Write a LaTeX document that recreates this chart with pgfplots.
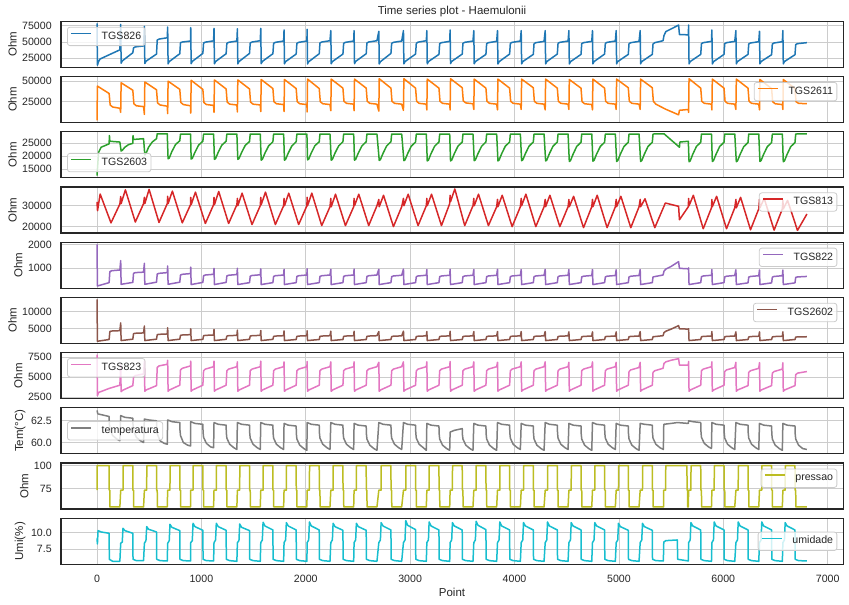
\documentclass[border=0pt]{standalone}
\usepackage{fontspec}
\setmainfont{Liberation Sans}
\usepackage{pgfplots}
\pgfplotsset{compat=1.18}

\definecolor{c0}{HTML}{1F77B4}
\definecolor{c1}{HTML}{FF7F0E}
\definecolor{c2}{HTML}{2CA02C}
\definecolor{c3}{HTML}{D62728}
\definecolor{c4}{HTML}{9467BD}
\definecolor{c5}{HTML}{8C564B}
\definecolor{c6}{HTML}{E377C2}
\definecolor{c7}{HTML}{7F7F7F}
\definecolor{c8}{HTML}{BCBD22}
\definecolor{c9}{HTML}{17BECF}
\definecolor{gridc}{HTML}{CCCCCC}
\definecolor{framec}{HTML}{262626}
\definecolor{textc}{HTML}{262626}

\newcommand\tfs{\fontsize{10.6bp}{12bp}\selectfont}
\newcommand\lfs{\fontsize{11.5bp}{13bp}\selectfont}

\pgfplotsset{
  ts/.style={
    scale only axis, width=782.3bp, height=46bp, anchor=north west,
    xmin=-345, xmax=7150, xtick={0,1000,...,7000}, xticklabels={},
    grid=major, major grid style={draw=gridc, line width=0.8bp},
    axis line style={draw=framec, line width=1.25bp},
    major tick length=0pt, tick style={draw=none},
    ticklabel style={font=\tfs, text=textc},
    yticklabel shift=5.8bp,
    ylabel style={font=\lfs, text=textc, inner sep=2bp},
    /pgf/number format/assume math mode=true,
    /pgf/number format/1000 sep={},
    scaled y ticks=false,
    legend style={font=\tfs, text=textc, draw=gridc, fill=white,
      fill opacity=0.8, draw opacity=1, text opacity=1,
      rounded corners=2.5bp, line width=0.8bp, inner xsep=3bp, inner ysep=3.5bp,
      column sep=9bp, nodes={inner sep=0.8bp, text height=7.6bp, text depth=2.2bp}},
    legend image code/.code={\draw[##1,line width=1.5bp] (0bp,3bp) -- (20bp,3bp);},
    every axis plot/.append style={line width=1.5bp, line join=round},
  },
  legUL/.style={legend style={at={(0.0077,0.88)}, anchor=north west}},
  legUR/.style={legend style={at={(0.9923,0.88)}, anchor=north east}},
  legLL/.style={legend style={at={(0.0077,0.12)}, anchor=south west}},
  legCL/.style={legend style={at={(0.0077,0.5)}, anchor=west}},
  legCR/.style={legend style={at={(0.9923,0.5)}, anchor=east}},
}

\begin{document}
\begin{tikzpicture}
\path[use as bounding box] (0,0) rectangle (849bp,605bp);

% TGS826
\begin{axis}[ts, at={(61bp,583.7bp)}, ymin=11200, ymax=81800, ytick={25000,50000,75000}, ylabel={Ohm}, legUL]
\addplot[c0] coordinates {
(0,78500)(4,14500)(15,20000)(30,24000)(219,38000)
(227,77000)(231,17500)(242,21000)(343,33500)(350,41000)(367,42500)(446,44000)
(454,74000)(458,17000)(469,20500)(570,31500)(577,53000)(594,54500)(673,56500)
(677,73000)(681,16500)(692,20000)(793,32000)(800,49000)(817,50000)(896,51500)
(898,72000)(902,16800)(913,20300)(1014,32500)(1021,48500)(1038,49800)(1117,51800)
(1121,71000)(1125,16600)(1136,20100)(1237,32000)(1244,48000)(1261,49500)(1340,51500)
(1345,70300)(1349,16500)(1360,20000)(1461,32500)(1468,48500)(1485,50000)(1564,52000)
(1569,71000)(1573,16800)(1584,20200)(1685,32000)(1692,48000)(1709,49500)(1788,51500)
(1792,68500)(1796,16500)(1807,20000)(1908,31500)(1915,48000)(1932,49500)(2011,51500)
(2013,69500)(2017,16300)(2028,19800)(2129,32000)(2136,48500)(2153,50000)(2232,52000)
(2240,67500)(2244,16500)(2255,20000)(2356,31500)(2363,48000)(2380,49500)(2459,51500)
(2463,67500)(2467,16800)(2478,20300)(2579,32000)(2586,48500)(2603,50000)(2682,52000)
(2700,66500)(2704,16300)(2715,19800)(2816,32500)(2823,48000)(2840,49500)(2919,51500)
(2936,67500)(2940,16500)(2951,20000)(3052,31500)(3059,48000)(3076,49800)(3155,52000)
(3160,67500)(3164,16500)(3175,20000)(3276,31000)(3283,47500)(3300,49000)(3379,51000)
(3383,68500)(3387,16800)(3398,20200)(3499,31500)(3506,48000)(3523,49500)(3602,51500)
(3610,67500)(3614,16500)(3625,20000)(3726,31000)(3733,47500)(3750,49000)(3829,51000)
(3837,67500)(3841,16300)(3852,19800)(3953,31500)(3960,48000)(3977,49500)(4056,51500)
(4064,67500)(4068,16500)(4079,20000)(4180,31000)(4187,47500)(4204,49000)(4283,51000)
(4294,67500)(4298,16500)(4309,20000)(4410,31500)(4417,48000)(4434,49500)(4513,51500)
(4521,67500)(4525,16300)(4536,19800)(4637,31000)(4644,47500)(4661,49000)(4740,51000)
(4747,67500)(4751,16500)(4762,20000)(4863,31500)(4870,48000)(4887,49500)(4966,51500)
(4974,67500)(4978,16500)(4989,20000)(5090,31000)(5097,47500)(5114,49000)(5193,51000)
(5204,67500)(5208,16500)(5219,20000)(5320,31000)(5327,47000)(5344,49000)(5423,52000)(5432,60000)(5450,66000)(5500,70000)(5572,76000)(5580,61500)(5665,61000)
(5668,76000)(5672,16500)(5683,20000)(5784,31000)(5791,47500)(5808,49000)(5887,51000)
(5891,68500)(5895,16300)(5906,19800)(6007,31000)(6014,47500)(6031,49000)(6110,51000)
(6121,67500)(6125,16500)(6136,20000)(6237,31000)(6244,47000)(6261,48500)(6340,50500)
(6347,66500)(6351,16500)(6362,20000)(6463,30500)(6470,47000)(6487,48500)(6566,50500)
(6571,67500)(6575,16500)(6586,20000)(6687,30500)(6694,46000)(6711,47500)(6801,49000)
};
\addlegendentry{TGS826}
\end{axis}

% TGS2611
\begin{axis}[ts, at={(61bp,528.5bp)}, ymin=-360, ymax=55700, ytick={25000,50000}, ylabel={Ohm}, legUR]
\addplot[c1] coordinates {
(0,2200)(4,44000)(116,35000)(126,21000)(150,18500)(219,17000)
(227,12000)(231,48000)(343,39000)(353,22500)(377,20000)(446,19000)
(454,9500)(458,49000)(570,39500)(580,23500)(604,21000)(673,19500)
(677,10500)(681,50000)(793,40000)(803,24000)(827,21500)(896,20000)
(898,11000)(902,51000)(1014,40000)(1024,24000)(1048,21500)(1117,20500)
(1121,12000)(1125,51500)(1237,40500)(1247,24500)(1271,22000)(1340,21000)
(1345,12500)(1349,51500)(1461,40500)(1471,24500)(1495,22000)(1564,21000)
(1569,13000)(1573,52000)(1685,41000)(1695,25000)(1719,22500)(1788,21500)
(1792,13000)(1796,52000)(1908,41000)(1918,25000)(1942,22500)(2011,21500)
(2013,12500)(2017,52500)(2129,41000)(2139,25000)(2163,22500)(2232,21500)
(2240,14000)(2244,52500)(2356,41500)(2366,25500)(2390,23000)(2459,22000)
(2463,14000)(2467,52500)(2579,41500)(2589,25500)(2613,23000)(2682,22000)
(2700,13500)(2704,53000)(2816,41500)(2826,25500)(2850,23000)(2919,22000)
(2936,14500)(2940,53000)(3052,41500)(3062,25500)(3086,23000)(3155,22000)
(3160,15000)(3164,52500)(3276,41500)(3286,25500)(3310,23000)(3379,22000)
(3383,15000)(3387,53000)(3499,42000)(3509,26000)(3533,23500)(3602,22500)
(3610,15500)(3614,52500)(3726,41500)(3736,25500)(3760,23000)(3829,22000)
(3837,15000)(3841,52500)(3953,41500)(3963,25500)(3987,23000)(4056,22000)
(4064,15500)(4068,52500)(4180,42000)(4190,25500)(4214,23000)(4283,22000)
(4294,15000)(4298,52500)(4410,41500)(4420,25500)(4444,23000)(4513,22000)
(4521,15500)(4525,52000)(4637,41500)(4647,25000)(4671,22500)(4740,21500)
(4747,15000)(4751,52500)(4863,41500)(4873,25500)(4897,23000)(4966,22000)
(4974,15500)(4978,52500)(5090,42000)(5100,25500)(5124,23000)(5193,22000)
(5204,15500)(5208,52500)(5320,42000)(5330,25500)(5354,22000)(5445,16000)(5572,9000)(5580,14500)(5665,15500)
(5668,12000)(5672,53000)(5784,41500)(5794,25500)(5818,23000)(5887,22000)
(5891,15000)(5895,52500)(6007,41500)(6017,25500)(6041,23000)(6110,22000)
(6121,15500)(6125,52500)(6237,41500)(6247,25500)(6271,23000)(6340,22000)
(6347,15000)(6351,52000)(6463,41000)(6473,25000)(6497,22500)(6566,21500)
(6571,15500)(6575,52000)(6687,41000)(6697,25000)(6721,23000)(6801,22500)
};
\addlegendentry{TGS2611}
\end{axis}

% TGS2603
\begin{axis}[ts, at={(61bp,473.3bp)}, ymin=11700, ymax=29500, ytick={15000,20000,25000}, ylabel={Ohm}, legLL]
\addplot[c2] coordinates {
(0,12500)(15,21500)(40,23500)(116,24800)(119,28000)(123,25800)(219,25500)
(231,22000)(242,22300)(267,23500)(302,24500)(343,25000)(345,28000)(350,26500)(446,26800)
(458,20500)(469,21000)(494,23500)(529,25500)(570,26800)(577,28700)(673,28700)
(681,19000)(692,19300)(717,21800)(752,24500)(793,26000)(800,28600)(896,28600)
(902,18900)(913,19200)(938,21500)(973,24300)(1014,25800)(1021,28600)(1117,28600)
(1125,18800)(1136,19100)(1161,21500)(1196,24300)(1237,25800)(1244,28600)(1340,28600)
(1349,18800)(1360,19100)(1385,21400)(1420,24200)(1461,25700)(1468,28600)(1564,28600)
(1573,18500)(1584,18800)(1609,21200)(1644,24000)(1685,25600)(1692,28600)(1788,28600)
(1796,18500)(1807,18800)(1832,21200)(1867,24000)(1908,25600)(1915,28600)(2011,28600)
(2017,18600)(2028,18900)(2053,21300)(2088,24100)(2129,25600)(2136,28600)(2232,28600)
(2244,18500)(2255,18800)(2280,21200)(2315,24000)(2356,25600)(2363,28600)(2459,28600)
(2467,18500)(2478,18800)(2503,21200)(2538,24000)(2579,25600)(2586,28600)(2682,28600)
(2704,18400)(2715,18700)(2740,21100)(2775,24000)(2816,25600)(2823,28600)(2919,28600)
(2940,18300)(2951,18600)(2976,21000)(3011,23900)(3052,25500)(3059,28600)(3155,28600)
(3164,18200)(3175,18500)(3200,21000)(3235,23900)(3276,25500)(3283,28600)(3379,28600)
(3387,18200)(3398,18500)(3423,21000)(3458,23900)(3499,25500)(3506,28600)(3602,28600)
(3614,18300)(3625,18600)(3650,21000)(3685,23900)(3726,25500)(3733,28600)(3829,28600)
(3841,18200)(3852,18500)(3877,21000)(3912,23900)(3953,25500)(3960,28600)(4056,28600)
(4068,18300)(4079,18600)(4104,21000)(4139,23900)(4180,25500)(4187,28600)(4283,28600)
(4298,18200)(4309,18500)(4334,21000)(4369,23900)(4410,25500)(4417,28600)(4513,28600)
(4525,18000)(4536,18300)(4561,20800)(4596,23800)(4637,25400)(4644,28600)(4740,28600)
(4751,18100)(4762,18400)(4787,20900)(4822,23800)(4863,25400)(4870,28600)(4966,28600)
(4978,18000)(4989,18300)(5014,20800)(5049,23800)(5090,25400)(5097,28600)(5193,28600)
(5208,18000)(5219,18300)(5244,20800)(5279,23800)(5320,25400)(5327,28600)(5432,28700)(5580,23500)(5584,25500)(5665,25800)
(5672,17900)(5683,18200)(5708,20800)(5743,23800)(5784,25400)(5791,28600)(5887,28600)
(5895,18000)(5906,18300)(5931,20800)(5966,23800)(6007,25400)(6014,28600)(6110,28600)
(6125,17900)(6136,18200)(6161,20700)(6196,23700)(6237,25300)(6244,28600)(6340,28600)
(6351,18000)(6362,18300)(6387,20800)(6422,23700)(6463,25300)(6470,28600)(6566,28600)
(6575,17900)(6586,18200)(6611,20700)(6646,23700)(6687,25300)(6694,28600)(6801,28700)
};
\addlegendentry{TGS2603}
\end{axis}

% TGS813
\begin{axis}[ts, at={(61bp,418.1bp)}, ymin=17000, ymax=39000, ytick={20000,30000}, ylabel={Ohm}, legUR]
\addplot[c3] coordinates {
(0,31800)(5,27600)(30,35600)(134,21800)(219,30800)
(227,34400)(231,31000)(272,37600)(367,22200)(446,31000)
(454,34000)(458,31000)(499,37800)(594,22000)(673,31000)
(677,34500)(681,31000)(722,37000)(817,21800)(896,30500)
(898,34000)(902,30500)(943,36500)(1038,21500)(1117,30500)
(1121,34000)(1125,30500)(1166,36800)(1261,21500)(1340,30500)
(1345,33500)(1349,30000)(1390,36000)(1485,21000)(1564,30000)
(1569,34000)(1573,30500)(1614,36500)(1709,21000)(1788,30000)
(1792,33500)(1796,30000)(1837,36000)(1932,21000)(2011,30000)
(2013,34000)(2017,30000)(2058,36000)(2153,20500)(2232,29500)
(2240,33500)(2244,29500)(2285,35500)(2380,20500)(2459,29500)
(2463,33500)(2467,30000)(2508,35500)(2603,20500)(2682,30000)
(2700,33000)(2704,29500)(2745,35000)(2840,20000)(2919,29500)
(2936,33500)(2940,30000)(2981,35500)(3076,20500)(3155,30000)
(3160,33500)(3164,30000)(3205,35500)(3300,20500)(3379,31000)
(3383,35000)(3387,32000)(3428,38000)(3523,20500)(3602,30000)
(3610,33500)(3614,30000)(3655,35500)(3750,20500)(3829,29500)
(3837,33000)(3841,29500)(3882,35000)(3977,20000)(4056,29500)
(4064,33500)(4068,30000)(4109,35500)(4204,20000)(4283,29500)
(4294,33000)(4298,29500)(4339,35000)(4434,20000)(4513,29500)
(4521,33000)(4525,29500)(4566,34500)(4661,19500)(4740,29500)
(4747,33000)(4751,29500)(4792,35000)(4887,19500)(4966,29500)
(4974,33000)(4978,29500)(5019,34500)(5114,19500)(5193,29500)
(5204,33000)(5208,29500)(5250,33300)(5344,19500)(5445,31300)(5572,29700)(5580,23300)(5665,29500)
(5668,33500)(5672,30000)(5713,35000)(5808,19000)(5887,29000)
(5891,33000)(5895,29500)(5936,34500)(6031,19000)(6110,29000)
(6121,33000)(6125,29000)(6166,34000)(6261,18500)(6340,28500)
(6347,33000)(6351,29000)(6392,33500)(6487,18300)(6566,28500)
(6571,32500)(6575,28500)(6616,32500)(6711,18200)(6801,26000)
};
\addlegendentry{TGS813}
\end{axis}

% TGS822
\begin{axis}[ts, at={(61bp,362.8bp)}, ymin=167, ymax=2096, ytick={1000,2000}, ylabel={Ohm}, legUR]
\addplot[c4] coordinates {
(0,2000)(4,260)(116,400)(123,860)(140,900)(219,930)
(227,1320)(231,330)(343,410)(350,790)(367,820)(446,840)
(454,1210)(458,330)(570,420)(577,760)(594,790)(673,820)
(677,1100)(681,330)(793,420)(800,720)(817,750)(896,780)
(898,1050)(902,320)(1014,410)(1021,690)(1038,720)(1117,750)
(1121,1000)(1125,320)(1237,410)(1244,680)(1261,710)(1340,740)
(1345,1000)(1349,320)(1461,400)(1468,670)(1485,700)(1564,730)
(1569,980)(1573,320)(1685,400)(1692,660)(1709,690)(1788,720)
(1792,960)(1796,320)(1908,400)(1915,660)(1932,690)(2011,720)
(2013,980)(2017,320)(2129,400)(2136,660)(2153,690)(2232,720)
(2240,960)(2244,320)(2356,400)(2363,660)(2380,690)(2459,720)
(2463,970)(2467,320)(2579,400)(2586,660)(2603,690)(2682,720)
(2700,960)(2704,320)(2816,400)(2823,650)(2840,680)(2919,710)
(2936,970)(2940,320)(3052,400)(3059,650)(3076,680)(3155,710)
(3160,950)(3164,320)(3276,400)(3283,650)(3300,680)(3379,710)
(3383,960)(3387,320)(3499,400)(3506,650)(3523,680)(3602,710)
(3610,950)(3614,320)(3726,400)(3733,650)(3750,680)(3829,710)
(3837,960)(3841,320)(3953,400)(3960,650)(3977,680)(4056,710)
(4064,950)(4068,320)(4180,400)(4187,650)(4204,680)(4283,710)
(4294,960)(4298,320)(4410,400)(4417,650)(4434,680)(4513,710)
(4521,950)(4525,320)(4637,400)(4644,640)(4661,670)(4740,700)
(4747,950)(4751,320)(4863,400)(4870,640)(4887,670)(4966,700)
(4974,940)(4978,320)(5090,400)(5097,640)(5114,670)(5193,700)
(5204,950)(5208,320)(5320,400)(5327,640)(5423,720)(5432,880)(5450,970)(5500,1080)(5572,1280)(5580,1000)(5665,980)
(5668,1020)(5672,320)(5784,400)(5791,650)(5808,680)(5887,710)
(5891,950)(5895,320)(6007,400)(6014,640)(6031,670)(6110,700)
(6121,940)(6125,320)(6237,390)(6244,630)(6261,660)(6340,690)
(6347,930)(6351,320)(6463,390)(6470,630)(6487,660)(6566,690)
(6571,930)(6575,320)(6687,390)(6694,620)(6711,640)(6801,660)
};
\addlegendentry{TGS822}
\end{axis}

% TGS2602
\begin{axis}[ts, at={(61bp,307.6bp)}, ymin=780, ymax=14050, ytick={5000,10000}, ylabel={Ohm}, legUR]
\addplot[c5] coordinates {
(0,13450)(4,1400)(116,1900)(123,4200)(140,4350)(219,4450)
(227,6700)(231,1600)(343,2000)(350,3600)(367,3700)(446,3800)
(454,5800)(458,1600)(570,2000)(577,3300)(594,3400)(673,3500)
(677,5300)(681,1600)(793,2000)(800,3100)(817,3200)(896,3300)
(898,5000)(902,1600)(1014,1950)(1021,3000)(1038,3100)(1117,3200)
(1121,4800)(1125,1600)(1237,1950)(1244,2900)(1261,3000)(1340,3100)
(1345,4600)(1349,1600)(1461,1950)(1468,2900)(1485,3000)(1564,3100)
(1569,4500)(1573,1600)(1685,1950)(1692,2800)(1709,2900)(1788,3000)
(1792,4400)(1796,1600)(1908,1900)(1915,2800)(1932,2900)(2011,3000)
(2013,4400)(2017,1600)(2129,1900)(2136,2800)(2153,2900)(2232,3000)
(2240,4300)(2244,1600)(2356,1900)(2363,2800)(2380,2900)(2459,3000)
(2463,4300)(2467,1600)(2579,1900)(2586,2800)(2603,2900)(2682,3000)
(2700,4200)(2704,1600)(2816,1900)(2823,2750)(2840,2850)(2919,2950)
(2936,4300)(2940,1600)(3052,1900)(3059,2750)(3076,2850)(3155,2950)
(3160,4200)(3164,1600)(3276,1900)(3283,2750)(3300,2850)(3379,2950)
(3383,4300)(3387,1600)(3499,1900)(3506,2750)(3523,2850)(3602,2950)
(3610,4200)(3614,1600)(3726,1900)(3733,2750)(3750,2850)(3829,2950)
(3837,4200)(3841,1600)(3953,1900)(3960,2750)(3977,2850)(4056,2950)
(4064,4200)(4068,1600)(4180,1900)(4187,2750)(4204,2850)(4283,2950)
(4294,4200)(4298,1600)(4410,1900)(4417,2750)(4434,2850)(4513,2950)
(4521,4100)(4525,1600)(4637,1900)(4644,2700)(4661,2800)(4740,2900)
(4747,4100)(4751,1600)(4863,1900)(4870,2700)(4887,2800)(4966,2900)
(4974,4100)(4978,1600)(5090,1900)(5097,2700)(5114,2800)(5193,2900)
(5204,4200)(5208,1600)(5320,1900)(5327,2700)(5423,3000)(5432,3900)(5450,4300)(5500,4900)(5572,5900)(5580,5000)(5665,4900)
(5668,5000)(5672,1600)(5784,1900)(5791,2700)(5808,2800)(5887,2900)
(5891,4200)(5895,1600)(6007,1900)(6014,2700)(6031,2800)(6110,2900)
(6121,4100)(6125,1600)(6237,1900)(6244,2650)(6261,2750)(6340,2850)
(6347,4100)(6351,1600)(6463,1900)(6470,2650)(6487,2750)(6566,2850)
(6571,4100)(6575,1600)(6687,1900)(6694,2600)(6711,2650)(6801,2700)
};
\addlegendentry{TGS2602}
\end{axis}

% TGS823
\begin{axis}[ts, at={(61bp,252.4bp)}, ymin=2340, ymax=8050, ytick={2500,5000,7500}, ylabel={Ohm}, legUL]
\addplot[c6] coordinates {
(0,7800)(4,2700)(15,3100)(116,3600)(219,4000)
(227,6500)(231,3200)(242,3350)(343,3950)(350,5000)(367,5200)(446,5400)
(454,7000)(458,3250)(469,3400)(570,3950)(577,6200)(594,6400)(673,6600)
(677,7100)(681,3250)(692,3400)(793,4000)(800,5900)(817,6100)(896,6400)
(898,7000)(902,3250)(913,3400)(1014,4000)(1021,5800)(1038,6000)(1117,6300)
(1121,7000)(1125,3250)(1136,3400)(1237,4000)(1244,5800)(1261,6000)(1340,6300)
(1345,6900)(1349,3250)(1360,3400)(1461,4000)(1468,5800)(1485,6000)(1564,6300)
(1569,7000)(1573,3250)(1584,3400)(1685,4000)(1692,5800)(1709,6000)(1788,6300)
(1792,6900)(1796,3250)(1807,3400)(1908,4000)(1915,5800)(1932,6000)(2011,6300)
(2013,6950)(2017,3250)(2028,3400)(2129,4000)(2136,5800)(2153,6000)(2232,6300)
(2240,6900)(2244,3250)(2255,3400)(2356,4000)(2363,5800)(2380,6000)(2459,6300)
(2463,6900)(2467,3250)(2478,3400)(2579,4000)(2586,5800)(2603,6000)(2682,6300)
(2700,6850)(2704,3250)(2715,3400)(2816,4000)(2823,5800)(2840,6000)(2919,6300)
(2936,6900)(2940,3250)(2951,3400)(3052,4000)(3059,5800)(3076,6000)(3155,6300)
(3160,6900)(3164,3250)(3175,3400)(3276,4000)(3283,5800)(3300,6000)(3379,6300)
(3383,6950)(3387,3250)(3398,3400)(3499,4000)(3506,5800)(3523,6000)(3602,6300)
(3610,6900)(3614,3250)(3625,3400)(3726,4000)(3733,5800)(3750,6000)(3829,6300)
(3837,6850)(3841,3250)(3852,3400)(3953,4000)(3960,5800)(3977,6000)(4056,6300)
(4064,6900)(4068,3250)(4079,3400)(4180,4000)(4187,5800)(4204,6000)(4283,6300)
(4294,6900)(4298,3250)(4309,3400)(4410,4000)(4417,5800)(4434,6000)(4513,6300)
(4521,6850)(4525,3250)(4536,3400)(4637,4000)(4644,5800)(4661,6000)(4740,6300)
(4747,6900)(4751,3250)(4762,3400)(4863,4000)(4870,5800)(4887,6000)(4966,6300)
(4974,6850)(4978,3250)(4989,3400)(5090,4000)(5097,5700)(5114,5900)(5193,6200)
(5204,6850)(5208,3250)(5219,3400)(5320,4000)(5327,5600)(5344,5800)(5423,6100)(5432,6700)(5450,6900)(5500,7100)(5572,7300)(5580,6500)(5665,6500)
(5668,6950)(5672,3250)(5683,3400)(5784,4000)(5791,5800)(5808,6000)(5887,6300)
(5891,6900)(5895,3250)(5906,3400)(6007,4000)(6014,5700)(6031,5900)(6110,6200)
(6121,6850)(6125,3250)(6136,3400)(6237,3950)(6244,5600)(6261,5800)(6340,6100)
(6347,6800)(6351,3250)(6362,3400)(6463,3950)(6470,5500)(6487,5700)(6566,6000)
(6571,6800)(6575,3250)(6586,3400)(6687,3950)(6694,5300)(6711,5500)(6801,5700)
};
\addlegendentry{TGS823}
\end{axis}

% temperatura
\begin{axis}[ts, at={(61bp,197.2bp)}, ymin=58.7, ymax=64.0, ytick={60,62.5}, ylabel={Tem(°C)}, legCL,
  yticklabel style={/pgf/number format/fixed, /pgf/number format/fixed zerofill, /pgf/number format/precision=1}]
\addplot[c7] coordinates {
(0,63.7)(8,63.3)(116,63.0)(118,62.2)(123,61.6)(150,60.8)(190,60.4)(219,60.2)
(227,63.1)(267,62.9)(343,62.8)(345,62.0)(350,61.4)(377,60.6)(417,60.2)(446,60.0)
(454,62.7)(494,62.6)(570,62.5)(572,61.6)(577,61.0)(604,60.2)(644,59.9)(673,59.8)
(677,62.6)(717,62.4)(793,62.3)(795,61.4)(800,60.8)(827,60.0)(867,59.7)(896,59.6)
(898,62.4)(938,62.2)(1014,62.1)(1016,61.2)(1021,60.6)(1048,59.9)(1088,59.5)(1117,59.4)
(1121,62.3)(1161,62.1)(1237,62.0)(1239,61.1)(1244,60.5)(1271,59.8)(1311,59.4)(1340,59.2)
(1345,62.3)(1385,62.1)(1461,62.0)(1463,61.1)(1468,60.5)(1495,59.8)(1535,59.4)(1564,59.2)
(1569,62.3)(1609,62.1)(1685,62.0)(1687,61.1)(1692,60.5)(1719,59.8)(1759,59.4)(1788,59.2)
(1792,62.2)(1832,62.0)(1908,61.9)(1910,61.0)(1915,60.4)(1942,59.7)(1982,59.3)(2011,59.1)
(2013,62.3)(2053,62.1)(2129,62.0)(2131,61.1)(2136,60.5)(2163,59.8)(2203,59.4)(2232,59.2)
(2240,62.3)(2280,62.1)(2356,62.0)(2358,61.1)(2363,60.5)(2390,59.8)(2430,59.4)(2459,59.2)
(2463,62.2)(2503,62.0)(2579,61.9)(2581,61.0)(2586,60.4)(2613,59.7)(2653,59.3)(2682,59.1)
(2700,62.3)(2740,62.1)(2816,62.0)(2818,61.1)(2823,60.5)(2850,59.8)(2890,59.4)(2919,59.2)
(2936,62.3)(2976,62.1)(3052,62.0)(3054,61.1)(3059,60.5)(3086,59.8)(3126,59.4)(3155,59.1)
(3160,62.2)(3200,62.0)(3276,61.9)(3278,61.0)(3283,60.4)(3310,59.7)(3350,59.3)(3379,59.1)
(3383,61.2)(3423,61.4)(3499,61.6)(3501,60.9)(3506,60.4)(3533,59.7)(3573,59.3)(3602,59.1)
(3610,62.2)(3650,62.0)(3726,61.9)(3728,61.0)(3733,60.4)(3760,59.7)(3800,59.3)(3829,59.1)
(3837,62.3)(3877,62.1)(3953,62.0)(3955,61.1)(3960,60.5)(3987,59.8)(4027,59.4)(4056,59.2)
(4064,62.2)(4104,62.0)(4180,61.9)(4182,61.0)(4187,60.4)(4214,59.7)(4254,59.3)(4283,59.1)
(4294,62.3)(4334,62.1)(4410,62.0)(4412,61.1)(4417,60.5)(4444,59.8)(4484,59.4)(4513,59.2)
(4521,62.2)(4561,62.0)(4637,61.9)(4639,61.0)(4644,60.4)(4671,59.7)(4711,59.3)(4740,59.1)
(4747,62.3)(4787,62.1)(4863,62.0)(4865,61.1)(4870,60.5)(4897,59.8)(4937,59.4)(4966,59.2)
(4974,62.2)(5014,62.0)(5090,61.9)(5092,61.0)(5097,60.4)(5124,59.7)(5164,59.3)(5193,59.1)
(5204,62.2)(5244,62.1)(5320,62.0)(5322,61.1)(5327,60.5)(5354,59.8)(5394,59.4)(5426,59.2)(5430,62.1)(5500,62.2)(5560,62.3)(5665,62.2)
(5668,62.5)(5708,62.4)(5784,62.3)(5786,61.3)(5791,60.6)(5818,59.9)(5858,59.5)(5887,59.3)
(5891,62.3)(5931,62.1)(6007,62.0)(6009,61.1)(6014,60.5)(6041,59.8)(6081,59.4)(6110,59.2)
(6121,62.3)(6161,62.1)(6237,62.0)(6239,61.1)(6244,60.5)(6271,59.8)(6311,59.4)(6340,59.2)
(6347,62.2)(6387,62.0)(6463,61.9)(6465,61.0)(6470,60.4)(6497,59.7)(6537,59.3)(6566,59.1)
(6571,62.2)(6611,62.0)(6687,61.9)(6689,61.0)(6694,60.4)(6721,59.7)(6761,59.3)(6801,59.2)
};
\addlegendentry{temperatura}
\end{axis}

% pressao
\begin{axis}[ts, at={(61bp,141.9bp)}, ymin=53.2, ymax=102.6, ytick={75,100}, ylabel={Ohm}, legUR]
\addplot[c8] coordinates {
(0,73.5)(1,100)(116,100)(117,73.5)(123,73.5)(124,55.5)(219,55.5)
(227,73.5)(249,73.5)(250,100)(343,100)(344,73.5)(350,73.5)(351,55.5)(446,55.5)
(454,73.5)(476,73.5)(477,100)(570,100)(571,73.5)(577,73.5)(578,55.5)(673,55.5)
(677,73.5)(699,73.5)(700,100)(793,100)(794,73.5)(800,73.5)(801,55.5)(896,55.5)
(898,73.5)(920,73.5)(921,100)(1014,100)(1015,73.5)(1021,73.5)(1022,55.5)(1117,55.5)
(1121,73.5)(1143,73.5)(1144,100)(1237,100)(1238,73.5)(1244,73.5)(1245,55.5)(1340,55.5)
(1345,73.5)(1367,73.5)(1368,100)(1461,100)(1462,73.5)(1468,73.5)(1469,55.5)(1564,55.5)
(1569,73.5)(1591,73.5)(1592,100)(1685,100)(1686,73.5)(1692,73.5)(1693,55.5)(1788,55.5)
(1792,73.5)(1814,73.5)(1815,100)(1908,100)(1909,73.5)(1915,73.5)(1916,55.5)(2011,55.5)
(2013,73.5)(2035,73.5)(2036,100)(2129,100)(2130,73.5)(2136,73.5)(2137,55.5)(2232,55.5)
(2240,73.5)(2262,73.5)(2263,100)(2356,100)(2357,73.5)(2363,73.5)(2364,55.5)(2459,55.5)
(2463,73.5)(2485,73.5)(2486,100)(2579,100)(2580,73.5)(2586,73.5)(2587,55.5)(2682,55.5)
(2700,73.5)(2722,73.5)(2723,100)(2816,100)(2817,73.5)(2823,73.5)(2824,55.5)(2919,55.5)
(2936,73.5)(2958,73.5)(2959,100)(3052,100)(3053,73.5)(3059,73.5)(3060,55.5)(3155,55.5)
(3160,73.5)(3182,73.5)(3183,100)(3276,100)(3277,73.5)(3283,73.5)(3284,55.5)(3379,55.5)
(3383,73.5)(3405,73.5)(3406,100)(3499,100)(3500,73.5)(3506,73.5)(3507,55.5)(3602,55.5)
(3610,73.5)(3632,73.5)(3633,100)(3726,100)(3727,73.5)(3733,73.5)(3734,55.5)(3829,55.5)
(3837,73.5)(3859,73.5)(3860,100)(3953,100)(3954,73.5)(3960,73.5)(3961,55.5)(4056,55.5)
(4064,73.5)(4086,73.5)(4087,100)(4180,100)(4181,73.5)(4187,73.5)(4188,55.5)(4283,55.5)
(4294,73.5)(4316,73.5)(4317,100)(4410,100)(4411,73.5)(4417,73.5)(4418,55.5)(4513,55.5)
(4521,73.5)(4543,73.5)(4544,100)(4637,100)(4638,73.5)(4644,73.5)(4645,55.5)(4740,55.5)
(4747,73.5)(4769,73.5)(4770,100)(4863,100)(4864,73.5)(4870,73.5)(4871,55.5)(4966,55.5)
(4974,73.5)(4996,73.5)(4997,100)(5090,100)(5091,73.5)(5097,73.5)(5098,55.5)(5193,55.5)
(5204,73.5)(5226,73.5)(5227,100)(5320,100)(5321,73.5)(5327,73.5)(5328,55.5)(5428,55.5)(5429,73.5)(5448,73.5)(5449,100)(5652,100)(5653,73.5)(5658,73.5)(5659,55.5)(5665,55.5)
(5668,73.5)(5690,73.5)(5691,100)(5784,100)(5785,73.5)(5791,73.5)(5792,55.5)(5887,55.5)
(5891,73.5)(5913,73.5)(5914,100)(6007,100)(6008,73.5)(6014,73.5)(6015,55.5)(6110,55.5)
(6121,73.5)(6143,73.5)(6144,100)(6237,100)(6238,73.5)(6244,73.5)(6245,55.5)(6340,55.5)
(6347,73.5)(6369,73.5)(6370,100)(6463,100)(6464,73.5)(6470,73.5)(6471,55.5)(6566,55.5)
(6571,73.5)(6593,73.5)(6594,100)(6687,100)(6688,73.5)(6694,73.5)(6695,55.5)(6801,55.5)
};
\addlegendentry{pressao}
\end{axis}

% umidade
\begin{axis}[ts, at={(61bp,86.7bp)}, ymin=5.25, ymax=12.15, ytick={7.5,10}, ylabel={Umi(\%)}, legCR,
  yticklabel style={/pgf/number format/fixed, /pgf/number format/fixed zerofill, /pgf/number format/precision=1},
  xticklabels={0,1000,2000,3000,4000,5000,6000,7000}, xticklabel shift=7bp]
\addplot[c9] coordinates {
(0,9.15)(4,8.3)(10,10.3)(40,10.1)(116,9.9)(118,6.0)(150,5.7)(219,5.7)
(227,8.4)(242,8.6)(249,10.65)(267,10.3)(343,9.9)(345,6.0)(377,5.8)(446,5.8)
(454,8.4)(469,8.8)(476,10.9)(494,10.5)(570,10.1)(572,6.0)(604,5.8)(673,5.75)
(677,8.4)(692,8.8)(699,11.25)(717,10.8)(793,10.3)(795,6.0)(827,5.8)(896,5.75)
(898,8.5)(913,8.8)(920,11.4)(938,10.9)(1014,10.35)(1016,6.0)(1048,5.8)(1117,5.75)
(1121,8.5)(1136,8.9)(1143,11.4)(1161,10.9)(1237,10.35)(1239,6.0)(1271,5.8)(1340,5.7)
(1345,8.5)(1360,8.8)(1367,11.3)(1385,10.8)(1461,10.3)(1463,6.0)(1495,5.8)(1564,5.7)
(1569,8.5)(1584,8.9)(1591,11.55)(1609,11.0)(1685,10.4)(1687,6.0)(1719,5.8)(1788,5.7)
(1792,8.5)(1807,8.9)(1814,11.5)(1832,11.0)(1908,10.4)(1910,6.0)(1942,5.8)(2011,5.7)
(2013,8.5)(2028,8.9)(2035,11.6)(2053,11.0)(2129,10.4)(2131,6.0)(2163,5.8)(2232,5.7)
(2240,8.5)(2255,8.9)(2262,11.4)(2280,10.9)(2356,10.35)(2358,6.0)(2390,5.8)(2459,5.7)
(2463,8.5)(2478,8.9)(2485,11.4)(2503,10.9)(2579,10.35)(2581,6.0)(2613,5.8)(2682,5.7)
(2700,8.5)(2715,8.9)(2722,11.5)(2740,11.0)(2816,10.4)(2818,6.0)(2850,5.8)(2919,5.7)
(2936,8.5)(2951,8.9)(2958,11.8)(2976,11.1)(3052,10.45)(3054,6.0)(3086,5.8)(3155,5.7)
(3160,8.5)(3175,8.9)(3182,11.6)(3200,11.0)(3276,10.4)(3278,6.0)(3310,5.8)(3379,5.7)
(3383,8.5)(3398,8.9)(3405,11.5)(3423,11.0)(3499,10.4)(3501,6.0)(3533,5.8)(3602,5.7)
(3610,8.5)(3625,8.9)(3632,11.7)(3650,11.1)(3726,10.45)(3728,6.0)(3760,5.8)(3829,5.7)
(3837,8.5)(3852,8.9)(3859,11.6)(3877,11.0)(3953,10.4)(3955,6.0)(3987,5.8)(4056,5.7)
(4064,8.5)(4079,8.9)(4086,11.5)(4104,11.0)(4180,10.4)(4182,6.0)(4214,5.8)(4283,5.7)
(4294,8.5)(4309,8.9)(4316,11.6)(4334,11.0)(4410,10.4)(4412,6.0)(4444,5.8)(4513,5.7)
(4521,8.5)(4536,8.9)(4543,11.5)(4561,11.0)(4637,10.4)(4639,6.0)(4671,5.8)(4740,5.7)
(4747,8.5)(4762,8.9)(4769,11.5)(4787,11.0)(4863,10.4)(4865,6.0)(4897,5.8)(4966,5.7)
(4974,8.5)(4989,8.9)(4996,11.4)(5014,10.9)(5090,10.35)(5092,6.0)(5124,5.8)(5193,5.7)
(5204,8.5)(5219,8.9)(5226,11.4)(5244,10.9)(5320,10.35)(5322,6.0)(5354,5.8)(5426,5.75)(5430,8.6)(5450,8.8)(5560,8.9)(5563,6.0)(5665,5.75)
(5668,8.5)(5683,8.9)(5690,11.5)(5708,11.0)(5784,10.4)(5786,6.0)(5818,5.8)(5887,5.7)
(5891,8.5)(5906,8.9)(5913,11.6)(5931,11.0)(6007,10.4)(6009,6.0)(6041,5.8)(6110,5.7)
(6121,8.5)(6136,8.9)(6143,11.6)(6161,11.0)(6237,10.4)(6239,6.0)(6271,5.8)(6340,5.7)
(6347,8.5)(6362,8.9)(6369,11.6)(6387,11.0)(6463,10.4)(6465,6.0)(6497,5.8)(6566,5.7)
(6571,8.5)(6586,8.9)(6593,11.5)(6611,11.0)(6687,10.4)(6689,6.0)(6721,5.8)(6801,5.75)
};
\addlegendentry{umidade}
\end{axis}

\node[anchor=base, font=\lfs, text=textc, inner sep=0pt] at (452bp,590bp) {Time series plot - Haemulonii};
\node[anchor=base, font=\lfs, text=textc, inner sep=0pt] at (452bp,8.3bp) {Point};
\end{tikzpicture}
\end{document}
